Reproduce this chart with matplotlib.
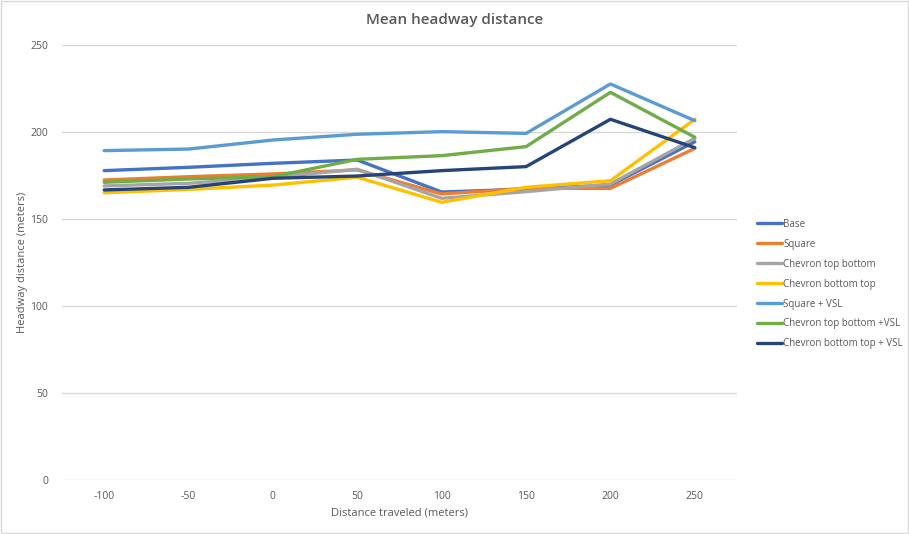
import matplotlib
matplotlib.use("Agg")
import matplotlib.pyplot as plt
from matplotlib.patches import Rectangle

plt.rcParams["font.family"] = ["Open Sans", "DejaVu Sans"]

# distance traveled categories (meters)
distances = ["-100", "-50", "0", "50", "100", "150", "200", "250"]

base = [177.8, 179.7, 182.0, 183.9, 165.5, 167.2, 169.5, 194.4]
square = [172.4, 174.3, 175.9, 178.2, 164.4, 167.6, 167.6, 190.6]
chevron_tb = [169.0, 170.5, 174.0, 178.6, 161.9, 165.7, 170.1, 196.4]
chevron_bt = [165.1, 167.0, 169.5, 174.0, 159.6, 168.2, 172.0, 207.3]
square_vsl = [189.3, 190.2, 195.4, 198.7, 200.2, 199.2, 227.6, 206.5]
chevron_tb_vsl = [171.1, 173.0, 174.3, 184.3, 186.4, 191.6, 222.8, 197.0]
chevron_bt_vsl = [166.7, 168.2, 173.4, 174.7, 177.8, 180.1, 207.3, 191.0]

SERIES = [
    ("Base", base, "#4472C4"),
    ("Square", square, "#ED7D31"),
    ("Chevron top bottom", chevron_tb, "#A5A5A5"),
    ("Chevron bottom top", chevron_bt, "#FFC000"),
    ("Square + VSL", square_vsl, "#5B9BD5"),
    ("Chevron top bottom +VSL", chevron_tb_vsl, "#70AD47"),
    ("Chevron bottom top + VSL", chevron_bt_vsl, "#264478"),
]

TXT = "#595959"
GRID = "#D9D9D9"

fig = plt.figure(figsize=(9.09, 5.34), dpi=100)
W, H = 909, 534
ax = fig.add_axes([62 / W, 1 - 480 / H, (737 - 62) / W, (480 - 45) / H])

xs = list(range(len(distances)))
for name, vals, color in SERIES:
    ax.plot(xs, vals, color=color, lw=2.4, label=name, solid_capstyle="round")

ax.set_xlim(-0.5, len(distances) - 0.5)
ax.set_ylim(0, 250)
ax.set_yticks([0, 50, 100, 150, 200, 250])
ax.set_xticks(xs)
ax.set_xticklabels(distances)
ax.yaxis.grid(True, color=GRID, lw=1)
ax.set_axisbelow(True)
for s in ax.spines.values():
    s.set_visible(False)
ax.tick_params(length=0, colors=TXT, labelsize=7.5)
ax.tick_params(axis="y", pad=10)
ax.tick_params(axis="x", pad=8)

ax.set_xlabel("Distance traveled (meters)", color=TXT, fontsize=8, labelpad=4)
ax.set_ylabel("Headway distance (meters)", color=TXT, fontsize=8)
ax.yaxis.set_label_coords((28 - 62) / (737 - 62), 0.5)
fig.text(455 / W, 1 - 20 / H, "Mean headway distance", ha="center", va="center",
         fontsize=11, color=TXT, fontweight="semibold")

leg = ax.legend(loc="upper left", bbox_to_anchor=(748 / W, 1 - 210 / H),
                bbox_transform=fig.transFigure, frameon=False, fontsize=7,
                handlelength=2.6, handletextpad=0.15, labelspacing=0.92)
for t in leg.get_texts():
    t.set_color(TXT)

fig.patches.append(Rectangle((1 / W, 1 / H), 1 - 2 / W, 1 - 2 / H,
                             transform=fig.transFigure, fill=False,
                             edgecolor="#D9D9D9", lw=1))

fig.savefig("out.png", dpi=100, facecolor="white")
